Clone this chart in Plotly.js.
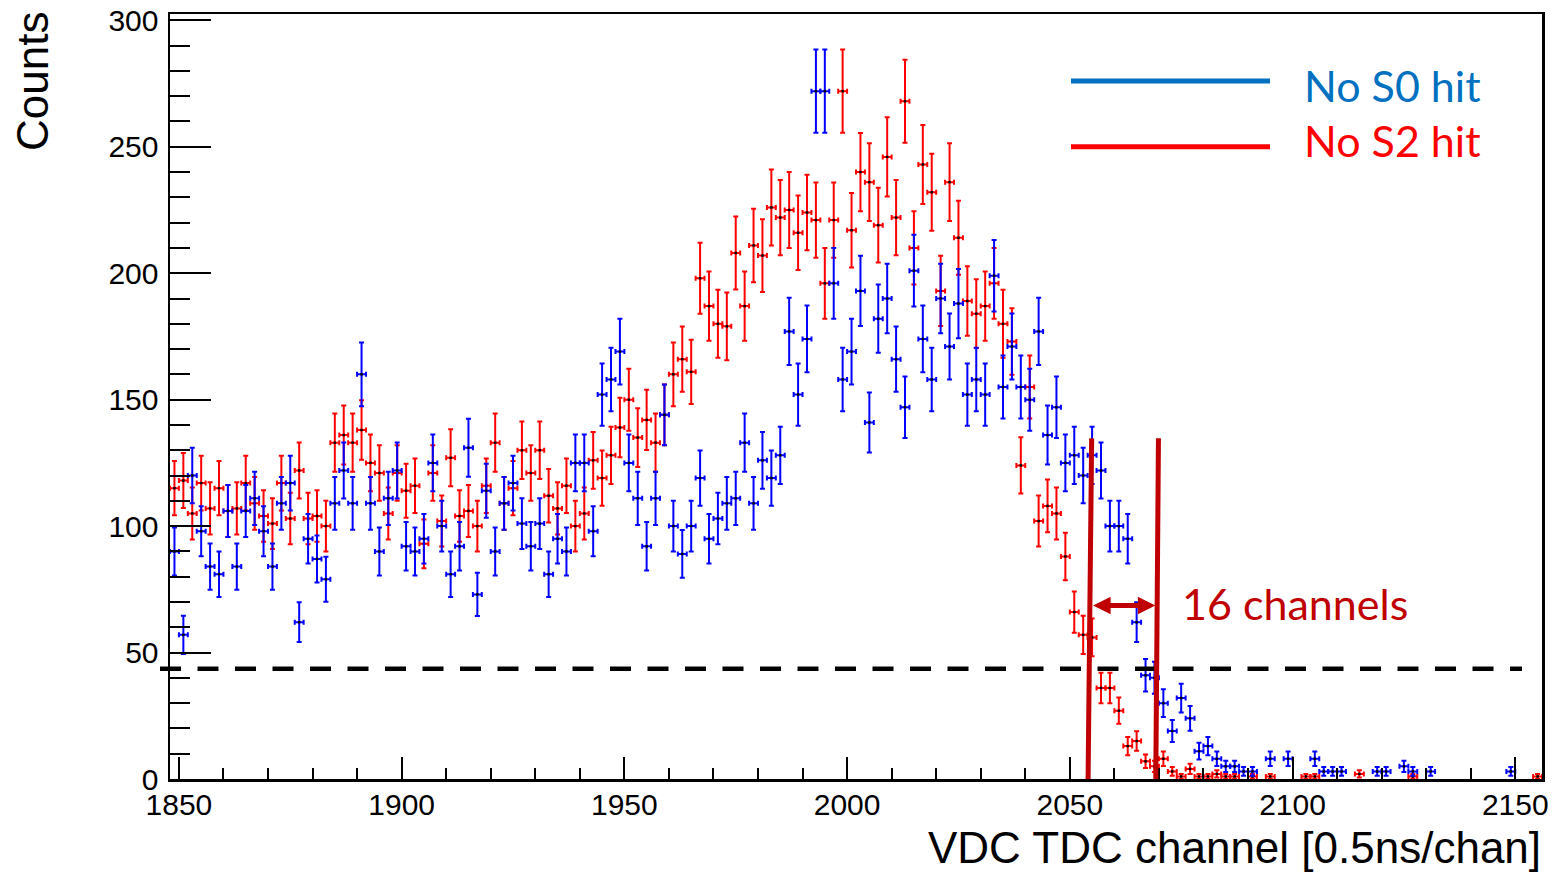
<!DOCTYPE html>
<html>
<head>
<meta charset="utf-8">
<script src="https://cdn.plot.ly/plotly-3.0.1.min.js"></script>
<style>
  html, body { margin: 0; padding: 0; background: #ffffff; }
  #chart { width: 1552px; height: 875px; }
</style>
</head>
<body>
<div id="chart"></div>
<script>
// Histogram binning: 2-channel bins starting at channel 1848
const BIN_START = 1848;
const BIN_WIDTH = 2;

// Counts per bin, "No S0 hit" (blue)
const noS0Counts = [
  90, 57, 120, 98, 84, 81, 106, 84, 106, 111,
  98, 84, 109, 117, 62, 95, 87, 79, 109, 122,
  109, 160, 109, 90, 111, 122, 92, 90, 95, 125,
  100, 81, 92, 131, 73, 114, 90, 109, 117, 101,
  92, 101, 81, 95, 90, 125, 125, 98, 152, 158,
  169, 125, 111, 92, 111, 144, 100, 89, 100, 119,
  95, 103, 109, 111, 133, 109, 126, 119, 128, 177,
  152, 174, 272, 272, 196, 158, 169, 193, 141, 182,
  190, 166, 147, 201, 174, 158, 190, 171, 188, 152,
  158, 152, 199, 155, 171, 155, 150, 177, 136, 147,
  125, 128, 120, 128, 122, 100, 100, 95, 62, 41,
  40, 30, 19, 32, 24, 11, 13, 8, 5, 5,
  3, 3, 0, 8, 0, 8, 0, 0, 8, 3,
  3, 3, 0, 0, 0, 3, 3, 0, 5, 3,
  0, 3, 0, 0, 0, 0, 0, 0, 0, 0,
  3, 0, 0, 0
];

// Counts per bin, "No S2 hit" (red)
const noS2Counts = [
  115, 118, 105, 117, 107, 115, 106, 107, 117, 109,
  104, 101, 117, 103, 122, 103, 104, 100, 133, 136,
  133, 138, 125, 121, 105, 121, 114, 116, 93, 121,
  102, 127, 104, 106, 100, 116, 133, 109, 115, 130,
  121, 130, 112, 107, 116, 100, 105, 126, 119, 128,
  139, 150, 135, 142, 133, 144, 160, 166, 161, 198,
  187, 180, 179, 208, 187, 211, 207, 226, 222, 225,
  216, 224, 221, 196, 221, 272, 217, 240, 236, 219,
  246, 222, 268, 210, 243, 232, 193, 236, 214, 189,
  184, 187, 196, 180, 173, 124, 155, 102, 108, 105,
  88, 66, 57, 56, 36, 36, 27, 13, 15, 7,
  5, 8, 3, 1, 4, 1, 1, 2, 1, 1,
  0, 1, 0, 1, 0, 0, 0, 1, 1, 0,
  0, 0, 0, 2, 0, 0, 0, 0, 0, 1,
  0, 0, 0, 0, 0, 0, 0, 0, 0, 0,
  0, 0, 0, 1
];

const seriesNames = ['No S0 hit', 'No S2 hit'];
const xTickValues = [1850, 1900, 1950, 2000, 2050, 2100, 2150];
const yTickValues = [0, 50, 100, 150, 200, 250, 300];

// Annotation values
const thresholdLevel = 43.6;          // dashed horizontal line
const cutLeft = [2054.9, 2054.1];     // top / bottom channel of left cut line
const cutRight = [2069.9, 2069.3];    // top / bottom channel of right cut line
const cutTop = 134.7;                 // top of cut lines (counts)
const arrowLevel = 68.6;
const arrowFrom = 2054.9, arrowTo = 2069.2;
const widthLabel = '16 channels';

function histTrace(counts, color, name) {
  const x = [], y = [], e = [];
  counts.forEach((c, k) => {
    if (c > 0) {
      x.push(BIN_START + BIN_WIDTH * k + BIN_WIDTH / 2);
      y.push(c);
      e.push(Math.sqrt(c));
    }
  });
  return {
    type: 'scatter', mode: 'markers', name: name, x: x, y: y,
    marker: {symbol: 'square', size: 2.5, color: '#000000', line: {width: 0}},
    error_y: {type: 'data', array: e, visible: true, color: color, thickness: 2, width: 2.5},
    error_x: {type: 'constant', value: BIN_WIDTH / 2, visible: true, color: color, thickness: 2, width: 2.5},
    hoverinfo: 'x+y'
  };
}

const traces = [
  histTrace(noS2Counts, '#ff0000', seriesNames[1]),
  histTrace(noS0Counts, '#0000ff', seriesNames[0])
];

// pixel -> paper helpers for layout placement (plot area 170..1542 x 14..779)
const PL = 170, PR = 1542, PT = 14, PB = 779;
const PX = px => (px - PL) / (PR - PL);
const PY = py => (PB - py) / (PB - PT);

const axisFont = {family: 'Liberation Sans, Arial, Helvetica, sans-serif', size: 30, color: '#000000'};
const titleFont = {family: 'Liberation Sans, Arial, Helvetica, sans-serif', size: 44, color: '#000000'};
const calFont = (color) => ({family: 'Lato, "Open Sans", sans-serif', size: 43, color: color});

const layout = {
  width: 1552, height: 875,
  margin: {l: PL, r: 1552 - PR, t: PT, b: 875 - PB, pad: 0},
  paper_bgcolor: '#ffffff', plot_bgcolor: '#ffffff',
  showlegend: false,
  xaxis: {
    range: [BIN_START, BIN_START + BIN_WIDTH * noS0Counts.length],
    tickmode: 'array', tickvals: xTickValues, ticktext: xTickValues.map(String),
    ticks: 'inside', ticklen: 22, tickwidth: 2, tickcolor: '#000000',
    minor: {dtick: 10, tick0: 1850, ticks: 'inside', ticklen: 11, tickwidth: 2, tickcolor: '#000000', showgrid: false},
    showline: true, linecolor: '#000000', linewidth: 2.5, mirror: true,
    showgrid: false, zeroline: false, tickfont: axisFont, ticklabelstandoff: -3
  },
  yaxis: {
    range: [0, 302.5],
    tickmode: 'array', tickvals: yTickValues, ticktext: yTickValues.map(String),
    ticks: 'inside', ticklen: 41, tickwidth: 2, tickcolor: '#000000',
    minor: {dtick: 10, tick0: 0, ticks: 'inside', ticklen: 20, tickwidth: 2, tickcolor: '#000000', showgrid: false},
    showline: true, linecolor: '#000000', linewidth: 2.5, mirror: true,
    showgrid: false, zeroline: false, tickfont: axisFont, ticklabelstandoff: 3
  },
  shapes: [
    {type: 'line', xref: 'paper', yref: 'y', x0: PX(160), x1: PX(1522), y0: thresholdLevel, y1: thresholdLevel,
     line: {color: '#000000', width: 4.5, dash: '21px,16.5px'}, layer: 'above'},
    {type: 'line', xref: 'x', yref: 'y', x0: cutLeft[0], y0: cutTop, x1: cutLeft[1], y1: 0,
     line: {color: '#c00000', width: 5}, layer: 'above'},
    {type: 'line', xref: 'x', yref: 'y', x0: cutRight[0], y0: cutTop, x1: cutRight[1], y1: 0,
     line: {color: '#c00000', width: 5}, layer: 'above'},
    // legend samples
    {type: 'line', xref: 'paper', yref: 'paper', x0: PX(1071), x1: PX(1270), y0: PY(81), y1: PY(81),
     line: {color: '#0070c0', width: 5}},
    {type: 'line', xref: 'paper', yref: 'paper', x0: PX(1071), x1: PX(1270), y0: PY(146.7), y1: PY(146.7),
     line: {color: '#ff0000', width: 5}}
  ],
  annotations: [
    {text: 'Counts', xref: 'paper', yref: 'paper', x: PX(32), y: PY(82), textangle: -90,
     showarrow: false, xanchor: 'center', yanchor: 'middle', font: titleFont},
    {text: 'VDC TDC channel [0.5ns/chan]', xref: 'paper', yref: 'paper', x: PX(1543), y: PY(874),
     showarrow: false, xanchor: 'right', yanchor: 'bottom', font: titleFont},
    {text: seriesNames[0], xref: 'paper', yref: 'paper', x: PX(1302), y: PY(85),
     showarrow: false, xanchor: 'left', yanchor: 'middle', font: calFont('#0070c0')},
    {text: seriesNames[1], xref: 'paper', yref: 'paper', x: PX(1302), y: PY(141),
     showarrow: false, xanchor: 'left', yanchor: 'middle', font: calFont('#ff0000')},
    {text: widthLabel, xref: 'paper', yref: 'paper', x: PX(1180), y: PY(603),
     showarrow: false, xanchor: 'left', yanchor: 'middle', font: calFont('#c00000')},
    {text: '', xref: 'x', yref: 'y', x: arrowTo, y: arrowLevel, axref: 'x', ayref: 'y', ax: arrowFrom, ay: arrowLevel,
     showarrow: true, arrowside: 'end+start', arrowhead: 2, arrowsize: 0.7, arrowwidth: 5, arrowcolor: '#c00000', standoff: 0, startstandoff: 0}
  ]
};

Plotly.newPlot('chart', traces, layout, {displayModeBar: false, staticPlot: true});
</script>
</body>
</html>
